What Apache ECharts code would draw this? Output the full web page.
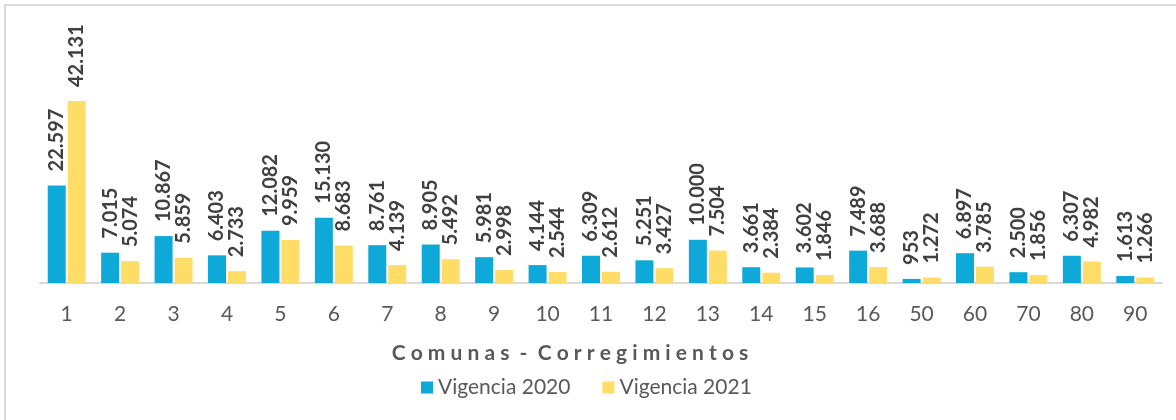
<!DOCTYPE html>
<html style="height: 100%">
<head>
    <meta charset="utf-8">
    <script src="https://cdn.jsdelivr.net/npm/echarts@6/dist/echarts.min.js"></script>
</head>
<body style="height: 100%; margin: 0; background: #fff">
<div id="container" style="width: 1176px; height: 420px"></div>
<script type="text/javascript">
    var categories = ['1', '2', '3', '4', '5', '6', '7', '8', '9', '10', '11', '12', '13', '14', '15', '16', '50', '60', '70', '80', '90'];
    var vigencia2020 = [22597, 7015, 10867, 6403, 12082, 15130, 8761, 8905, 5981, 4144, 6309, 5251, 10000, 3661, 3602, 7489, 953, 6897, 2500, 6307, 1613];
    var vigencia2021 = [42131, 5074, 5859, 2733, 9959, 8683, 4139, 5492, 2998, 2544, 2612, 3427, 7504, 2384, 1846, 3688, 1272, 3785, 1856, 4982, 1266];

    // miles con punto: 22597 -> 22.597
    function fmt(p) {
        return String(p.value).replace(/\B(?=(\d{3})+(?!\d))/g, '.');
    }

    var labelStyle = {
        show: true,
        position: 'top',
        rotate: 90,
        align: 'left',
        verticalAlign: 'middle',
        distance: 14,
        formatter: fmt,
        fontFamily: 'Lato',
        fontWeight: 'bold',
        fontSize: 20,
        color: '#404040'
    };

    var myChart = echarts.init(document.getElementById('container'));
    var option = {
        animation: false,
        backgroundColor: '#ffffff',
        graphic: [
            {
                type: 'rect',
                shape: { x: 5, y: 5, width: 1300, height: 600 },
                style: { fill: 'none', stroke: '#d9d9d9', lineWidth: 2 },
                silent: true
            },
            {
                type: 'text',
                x: 570,
                y: 343,
                style: {
                    text: 'C o m u n a s  -  C o r r e g i m i e n t o s',
                    fontFamily: 'Lato',
                    fontWeight: 'bold',
                    fontSize: 21,
                    fill: '#595959',
                    align: 'center'
                }
            }
        ],
        grid: {
            left: 40,
            right: 14,
            top: 67,
            bottom: 137
        },
        legend: {
            left: 416,
            top: 372,
            icon: 'rect',
            itemWidth: 12,
            itemHeight: 12,
            itemGap: 32,
            textStyle: { fontFamily: 'Lato', fontSize: 21, color: '#595959' },
            data: ['Vigencia 2020', 'Vigencia 2021']
        },
        xAxis: {
            type: 'category',
            data: categories,
            axisLine: { lineStyle: { color: '#d9d9d9', width: 2 } },
            axisTick: { show: false },
            axisLabel: { fontFamily: 'Lato', fontSize: 21, color: '#595959', margin: 21 }
        },
        yAxis: {
            type: 'value',
            min: 0,
            max: 50000,
            show: false,
            splitLine: { show: false }
        },
        series: [
            {
                name: 'Vigencia 2020',
                type: 'bar',
                data: vigencia2020,
                barWidth: 18,
                barGap: '11%',
                itemStyle: { color: '#0EA9D9' },
                label: labelStyle
            },
            {
                name: 'Vigencia 2021',
                type: 'bar',
                data: vigencia2021,
                barWidth: 18,
                itemStyle: { color: '#FFDD66' },
                label: labelStyle
            }
        ]
    };
    myChart.setOption(option, true);
</script>
</body>
</html>
